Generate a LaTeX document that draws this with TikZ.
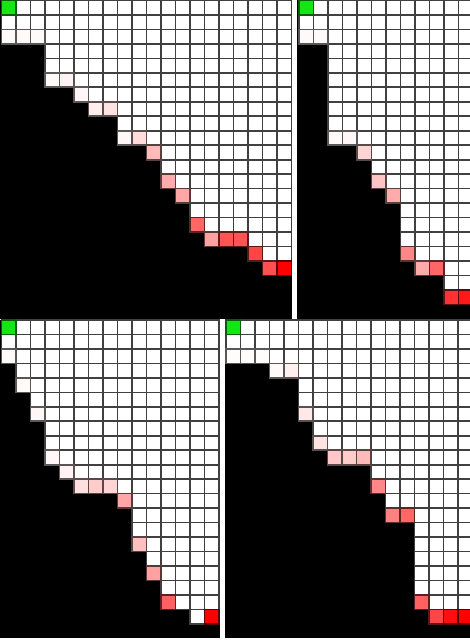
\documentclass[tikz,border=0pt]{standalone}
\usepackage{xcolor}
\usepackage{tikz}
\definecolor{GridLine}{HTML}{404040}
\definecolor{StartCell}{HTML}{14E614}

\tikzset{
  cellbox/.style={draw=GridLine, line width=2.4pt, fill=white},
}

% #1,#2 origin, #3 last column, #4 black cells per row
\newcommand{\panelgrid}[4]{%
  \foreach \k [count=\r from 0] in {#4} {
    \foreach \c in {0,...,#3} {
      \ifnum\c<\k\relax\else
        \draw[cellbox] ({#1+14.5*\c},{#2+14.47*\r}) rectangle ++(14.5,14.47);
      \fi
    }
  }
  \draw[cellbox, draw=StartCell!40!black, fill=StartCell] (#1,#2) rectangle ++(14.5,14.47);
}
% col/row/red percentage
\newcommand{\paintcells}[3]{%
  \foreach \c/\r/\p in {#3}
    \draw[cellbox, draw=red!\p!white!35!black, fill=red!\p!white] ({#1+14.5*\c},{#2+14.47*\r}) rectangle ++(14.5,14.47);
}

\begin{document}
\begin{tikzpicture}[x=0.5mm, y=-0.5mm]
\useasboundingbox (0,0) rectangle (470,640);
\clip (0,0) rectangle (470,640);
\fill[white] (0,0) rectangle (470,640);
\fill[black] (0,0) rectangle (292,318.5);
\fill[black] (297,0) rectangle (470,318.5);
\fill[black] (0,319.5) rectangle (220,637.5);
\fill[black] (224.5,319.5) rectangle (470,637.5);

\panelgrid{1.5}{0.5}{19}{0,0,0,3,3,3,5,6,8,8,10,11,11,12,13,13,14,17,18,20,20,20}
\paintcells{1.5}{0.5}{0/2/2,1/2/2,2/2/2,3/5/2,4/5/5,5/6/3,6/7/7,7/7/11,8/9/3,9/9/14,
  10/10/27,11/12/33,12/13/35,13/15/60,14/16/37,15/16/67,16/16/67,17/17/73,18/18/69,19/18/100}

\panelgrid{299}{0.5}{11}{0,0,0,2,2,2,2,2,2,2,4,5,5,6,7,7,7,7,8,10,10,12}
\paintcells{299}{0.5}{0/2/2,1/2/2,2/9/2,3/9/3,4/10/17,5/12/23,6/13/33,7/17/47,8/18/33,9/18/60,
  10/20/80,11/20/90}

\panelgrid{1.5}{320}{14}{0,0,0,1,1,2,2,3,3,3,4,5,8,9,9,9,10,10,11,11,13,15}
\paintcells{1.5}{320}{0/2/2,1/4/2,2/6/3,3/9/3,4/10/5,5/11/12,6/11/20,7/11/17,8/12/35,9/15/25,
  10/17/37,11/19/62,14/20/100}

\panelgrid{226}{320}{16}{0,0,0,3,5,5,5,6,6,7,10,10,11,11,13,13,13,13,13,13,14,17}
\paintcells{226}{320}{0/2/1,1/2/1,2/2/1,3/3/2,4/3/6,5/6/9,6/8/11,7/9/22,8/9/20,9/9/27,
  10/11/47,11/13/50,12/13/60,13/19/62,14/20/73,15/20/94,16/20/100}
\end{tikzpicture}
\end{document}
